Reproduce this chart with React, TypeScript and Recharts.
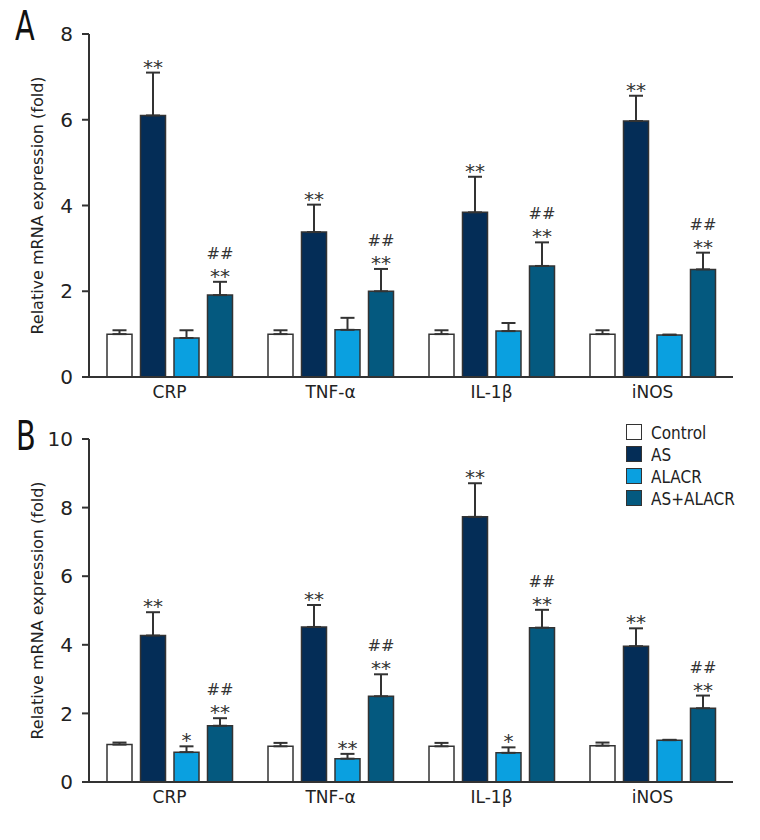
import React from 'react';
import { BarChart, Bar, XAxis, YAxis, ErrorBar, LabelList, Legend } from 'recharts';

const FONT = "'DejaVu Sans', 'Liberation Sans', sans-serif";

const genes = ['CRP', 'TNF-α', 'IL-1β', 'iNOS'];
const groupNames = ['Control', 'AS', 'ALACR', 'AS+ALACR'];
const groupKeys = ['control', 'as', 'alacr', 'combo'];
const groupColors = ['#ffffff', '#042d57', '#0aa0e0', '#04597f'];

// panel A: means and upper whisker (SEM)
const aControl = [1.0, 1.0, 1.0, 1.0];
const aControlErr = [0.09, 0.09, 0.09, 0.09];
const aAS = [6.1, 3.38, 3.84, 5.97];
const aASErr = [1.0, 0.64, 0.83, 0.59];
const aALACR = [0.91, 1.1, 1.07, 0.98];
const aALACRErr = [0.18, 0.28, 0.19, 0.01];
const aCombo = [1.91, 2.0, 2.59, 2.51];
const aComboErr = [0.31, 0.52, 0.55, 0.39];
const aMarks = [
  ['', '', '', ''],
  ['**', '**', '**', '**'],
  ['', '', '', ''],
  ['##|**', '##|**', '##|**', '##|**'],
];

// panel B
const bControl = [1.09, 1.04, 1.04, 1.06];
const bControlErr = [0.06, 0.1, 0.1, 0.09];
const bAS = [4.27, 4.52, 7.73, 3.96];
const bASErr = [0.68, 0.64, 0.98, 0.52];
const bALACR = [0.87, 0.68, 0.85, 1.22];
const bALACRErr = [0.17, 0.14, 0.16, 0.01];
const bCombo = [1.64, 2.5, 4.5, 2.15];
const bComboErr = [0.22, 0.64, 0.52, 0.37];
const bMarks = [
  ['', '', '', ''],
  ['**', '**', '**', '**'],
  ['*', '**', '*', ''],
  ['##|**', '##|**', '##|**', '##|**'],
];

const ticksA = [0, 2, 4, 6, 8];
const ticksB = [0, 2, 4, 6, 8, 10];

function buildRows(values: number[][], errs: number[][], marks: string[][]) {
  return genes.map((gene, i) => {
    const row: any = { gene };
    groupKeys.forEach((k, g) => {
      row[k] = values[g][i];
      row[k + '_err'] = [0, errs[g][i]];
      row[k + '_gap'] = errs[g][i];
      row[k + '_mark'] = marks[g][i];
    });
    return row;
  });
}

const dataA = buildRows([aControl, aAS, aALACR, aCombo], [aControlErr, aASErr, aALACRErr, aComboErr], aMarks);
const dataB = buildRows([bControl, bAS, bALACR, bCombo], [bControlErr, bASErr, bALACRErr, bComboErr], bMarks);

const Mark = (props: any) => {
  const { x, y, width, value } = props;
  if (!value) return null;
  const lines = String(value).split('|');
  const cx = Number(x) + Number(width) / 2;
  const top = Number(y);
  return (
    <g>
      {lines.map((t, i) => {
        const fromBottom = lines.length - 1 - i;
        const isStar = t.indexOf('*') >= 0;
        const base = isStar ? top + 1 - fromBottom * 17 : top - 6 - fromBottom * 17;
        return (
          <text key={i} x={cx} y={base} textAnchor="middle" fontFamily={FONT}
            fontSize={isStar ? 20 : 16} fill="#333">
            {t}
          </text>
        );
      })}
    </g>
  );
};

const YLabel = (props: any) => {
  const vb = props.viewBox || { x: 0, y: 0, width: 0, height: 0 };
  const cx = vb.x + 37;
  const cy = vb.y + vb.height / 2;
  return (
    <text x={cx} y={cy} transform={`rotate(-90 ${cx} ${cy})`} textAnchor="middle"
      dominantBaseline="central" fontFamily={FONT} fontSize={16} fill="#222">
      Relative mRNA expression (fold)
    </text>
  );
};

const LegendBox = () => (
  <div style={{ fontFamily: FONT, fontSize: 18, color: '#222' }}>
    {groupNames.map((name, i) => (
      <div key={name} style={{ display: 'flex', alignItems: 'center', height: 22 }}>
        <div style={{
          width: 14, height: 14, background: groupColors[i],
          border: '1.5px solid #333', marginRight: 9,
        }} />
        <span style={{ display: 'inline-block', transform: 'scaleX(0.85)', transformOrigin: 'left center' }}>{name}</span>
      </div>
    ))}
  </div>
);

const Panel = ({ data, ticks, max, legend }: any) => (
  <BarChart width={760} height={420} data={data}
    margin={{ top: 34, right: 27, left: 0, bottom: 13 }}
    barCategoryGap={18} barGap={8.5}>
    <XAxis dataKey="gene" axisLine={{ stroke: '#333', strokeWidth: 2 }} tickLine={false}
      tick={{ fontFamily: FONT, fontSize: 17, fill: '#222' }} tickMargin={3} height={30} />
    <YAxis domain={[0, max]} ticks={ticks} width={89} interval={0}
      axisLine={{ stroke: '#333', strokeWidth: 2 }} tickLine={{ stroke: '#333', strokeWidth: 2 }}
      tickSize={7} tickMargin={9}
      tick={{ fontFamily: FONT, fontSize: 20, fill: '#222' }}
      label={<YLabel />} />
    {legend && (
      <Legend layout="vertical" align="center" verticalAlign="middle"
        wrapperStyle={{ left: 626, top: 16, width: 'auto' }} content={<LegendBox />} />
    )}
    {groupKeys.flatMap((k, g) => [
      <Bar key={k} dataKey={k} name={groupNames[g]} stackId={k} fill={groupColors[g]}
        stroke="#333" strokeWidth={1.5} barSize={25} isAnimationActive={false}>
        <ErrorBar dataKey={k + '_err'} width={7} stroke="#333" strokeWidth={2} direction="y" />
      </Bar>,
      <Bar key={k + '_gap'} dataKey={k + '_gap'} stackId={k} fill="transparent"
        legendType="none" barSize={25} isAnimationActive={false}>
        <LabelList dataKey={k + '_mark'} content={<Mark />} />
      </Bar>,
    ])}
  </BarChart>
);

const letterStyle: React.CSSProperties = {
  position: 'absolute', fontFamily: FONT, fontSize: 40, lineHeight: '40px', color: '#111',
  transform: 'scaleX(0.72)', transformOrigin: 'left top',
};

export default function App() {
  return (
    <div style={{ position: 'absolute', left: 0, top: 0, width: 760, height: 840, background: '#fff' }}>
      <div style={{ position: 'absolute', left: 0, top: 0 }}>
        <Panel data={dataA} ticks={ticksA} max={8} />
      </div>
      <div style={{ position: 'absolute', left: 0, top: 405 }}>
        <Panel data={dataB} ticks={ticksB} max={10} legend />
      </div>
      <div style={{ ...letterStyle, left: 15, top: 6 }}>A</div>
      <div style={{ ...letterStyle, left: 16, top: 416 }}>B</div>
    </div>
  );
}
